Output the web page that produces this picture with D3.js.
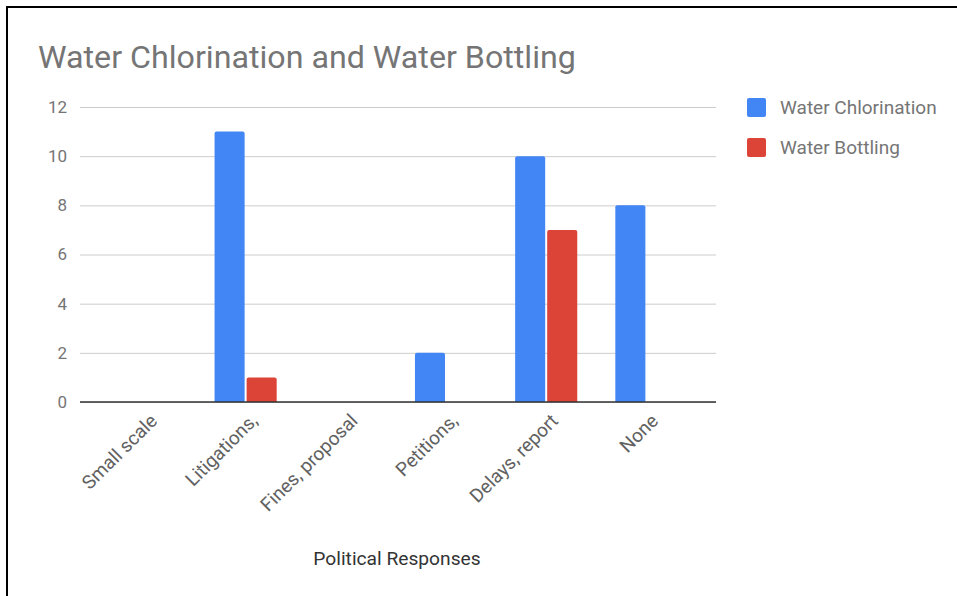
<!DOCTYPE html>
<html>
<head>
<meta charset="utf-8">
<script src="https://cdn.jsdelivr.net/npm/d3@7"></script>
<style>
  html, body { margin: 0; padding: 0; background: #fff; }
  svg { display: block; font-family: Roboto, "Noto Sans", Arial, sans-serif; }
</style>
</head>
<body>
<svg id="chart" width="957" height="596"></svg>
<script>
// Political responses per treatment type
const categories = ["Small scale", "Litigations,", "Fines, proposal", "Petitions,", "Delays, report", "None"];
const seriesNames = ["Water Chlorination", "Water Bottling"];
const chlorination = [0, 11, 0, 2, 10, 8];
const bottling = [0, 1, 0, 0, 7, 0];
const yTicks = [0, 2, 4, 6, 8, 10, 12];
const colors = ["#4285f4", "#db4437"];

const seriesValues = [chlorination, bottling];
const rows = categories.map((c, i) => ({
  category: c,
  values: seriesNames.map((s, j) => ({ key: s, value: seriesValues[j][i], color: colors[j] }))
}));

const svg = d3.select("#chart");
const W = 957, H = 596;
const plot = { left: 80, right: 716, top: 107, bottom: 402 };

// frame lines
svg.append("line").attr("x1", 6).attr("x2", W).attr("y1", 7).attr("y2", 7)
  .attr("stroke", "#000").attr("stroke-width", 2);
svg.append("line").attr("x1", 7).attr("x2", 7).attr("y1", 6).attr("y2", H)
  .attr("stroke", "#000").attr("stroke-width", 2);

// title
svg.append("text")
  .attr("x", 38).attr("y", 68)
  .attr("font-size", 32.2)
  .attr("fill", "#757575")
  .text("Water Chlorination and Water Bottling");

const y = d3.scaleLinear().domain([0, 12]).range([plot.bottom, plot.top]);
const x0 = d3.scaleBand().domain(categories).range([plot.left, plot.right])
  .paddingInner(0).paddingOuter(0.174).align(0.44);
const x1 = d3.scaleBand().domain(seriesNames).range([19, 81]).paddingInner(0.0625);
// inner band positions are defined against a 100px category step
const kx = x0.bandwidth() / 100;

// gridlines + y labels
const yAxis = d3.axisLeft(y).tickValues(yTicks).tickSize(-(plot.right - plot.left)).tickPadding(13);
const gy = svg.append("g").attr("transform", `translate(${plot.left},0)`).call(yAxis);
gy.select(".domain").remove();
gy.selectAll(".tick line").attr("stroke", "#cccccc").attr("stroke-width", 1);
gy.selectAll(".tick text").attr("font-size", 17).attr("fill", "#757575")
  .attr("font-family", "Roboto, sans-serif");

// bars with slightly rounded tops
function barPath(xl, w, yt, yb, r) {
  const h = yb - yt;
  if (h <= 0) return "";
  r = Math.min(r, h, w / 2);
  return `M${xl},${yb}V${yt + r}Q${xl},${yt} ${xl + r},${yt}H${xl + w - r}Q${xl + w},${yt} ${xl + w},${yt + r}V${yb}Z`;
}

const groups = svg.append("g").selectAll("g").data(rows).join("g")
  .attr("transform", d => `translate(${x0(d.category)},0)`);
groups.selectAll("path").data(d => d.values.filter(v => v.value > 0)).join("path")
  .attr("d", v => barPath(x1(v.key) * kx, x1.bandwidth() * kx, y(v.value), y(0), 2))
  .attr("fill", v => v.color);

// baseline
svg.append("line").attr("x1", plot.left).attr("x2", plot.right)
  .attr("y1", y(0)).attr("y2", y(0)).attr("stroke", "#333").attr("stroke-width", 1.5);

// x labels, rotated
const xAxis = d3.axisBottom(x0).tickSize(0).tickPadding(0);
const gx = svg.append("g").attr("transform", `translate(0,${plot.bottom})`).call(xAxis);
gx.select(".domain").remove();
gx.selectAll(".tick text")
  .attr("font-size", 19).attr("fill", "#616161").attr("font-family", "Roboto, sans-serif")
  .attr("text-anchor", "end")
  .attr("dy", null).attr("y", 0)
  .attr("transform", "translate(13,20) rotate(-45)");

// x axis title
svg.append("text")
  .attr("x", 397).attr("y", 565)
  .attr("text-anchor", "middle")
  .attr("font-size", 19.2).attr("fill", "#333")
  .text("Political Responses");

// legend
const legend = svg.append("g").selectAll("g").data(seriesNames).join("g")
  .attr("transform", (d, i) => `translate(747,${98 + i * 40})`);
legend.append("rect").attr("width", 19).attr("height", 19).attr("rx", 2)
  .attr("fill", (d, i) => colors[i]);
legend.append("text").attr("x", 33).attr("y", 16)
  .attr("font-size", 19).attr("fill", "#757575")
  .text(d => d);
</script>
</body>
</html>
